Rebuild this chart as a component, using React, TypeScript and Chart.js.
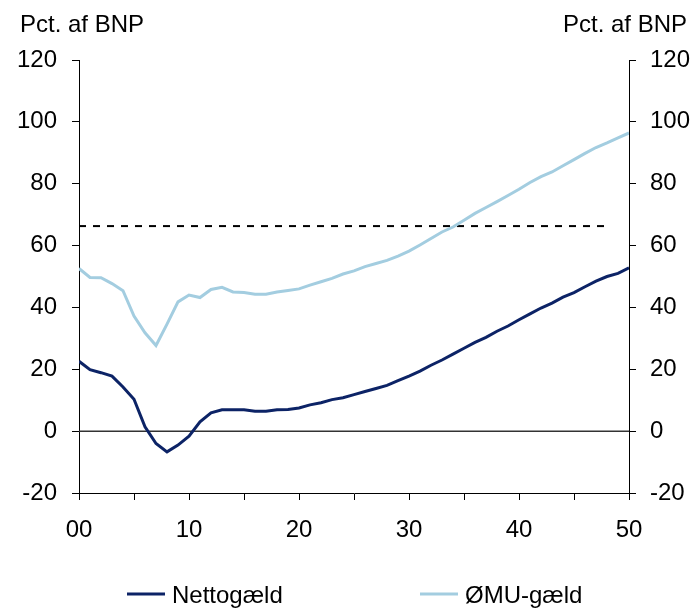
import React, { useEffect, useRef } from "react";
import { Chart, registerables } from "chart.js";

Chart.register(...registerables);

const years: number[] = Array.from({ length: 51 }, (_, i) => i);

const nettogaeld: number[] = [
  22.6, 19.9, 18.9, 17.8, 14.3, 10.3, 1.4, -4.0, -6.7, -4.5,
  -1.6, 3.0, 5.9, 6.9, 6.9, 6.9, 6.4, 6.4, 6.9, 7.0,
  7.5, 8.5, 9.2, 10.2, 10.8, 11.8, 12.8, 13.8, 14.8, 16.3,
  17.8, 19.4, 21.3, 23.0, 24.9, 26.8, 28.7, 30.3, 32.3, 34.0,
  36.0, 37.9, 39.8, 41.4, 43.3, 44.8, 46.7, 48.5, 50.0, 51.0,
  52.8,
];

const emuGaeld: number[] = [
  52.6, 49.7, 49.6, 47.7, 45.4, 37.2, 31.8, 27.7, 34.6, 41.8,
  44.0, 43.2, 45.8, 46.5, 45.0, 44.8, 44.3, 44.3, 45.0, 45.5,
  46.0, 47.2, 48.3, 49.4, 50.8, 51.8, 53.2, 54.2, 55.2, 56.6,
  58.2, 60.2, 62.3, 64.4, 66.0, 68.2, 70.4, 72.3, 74.2, 76.2,
  78.2, 80.4, 82.3, 83.8, 85.8, 87.8, 89.8, 91.7, 93.2, 94.8,
  96.4,
];

const referenceLevel: number = 66.3;
const referenceStart: number = 0;
const referenceEnd: number = 48.3;

const seriesLabels: string[] = ["Nettogæld", "ØMU-gæld"];
const axisTitle: string = "Pct. af BNP";
const yMin = -20;
const yMax = 120;
const yStep = 20;
const xMin = 0;
const xMax = 50;

const NAVY = "#0c2366";
const LIGHT = "#a3cde0";
const FONT = "'Liberation Sans', Arial, sans-serif";

const overlayPlugin = {
  id: "overlay",
  afterDraw(chart: any) {
    const ctx = chart.ctx;
    ctx.save();
    ctx.fillStyle = "#000";
    ctx.font = `24px ${FONT}`;
    ctx.textBaseline = "alphabetic";
    ctx.textAlign = "left";
    ctx.fillText(axisTitle, 20, 32);
    ctx.textAlign = "right";
    ctx.fillText(axisTitle, 687, 32);

    // legend
    const items = [
      { x: 127, ds: chart.data.datasets[0] },
      { x: 420, ds: chart.data.datasets[1] },
    ];
    const ly = 594;
    items.forEach((it) => {
      ctx.strokeStyle = it.ds.borderColor;
      ctx.lineWidth = 3;
      ctx.beginPath();
      ctx.moveTo(it.x, ly);
      ctx.lineTo(it.x + 38, ly);
      ctx.stroke();
      ctx.fillStyle = "#000";
      ctx.textAlign = "left";
      ctx.textBaseline = "alphabetic";
      ctx.fillText(it.ds.label, it.x + 45, 603);
    });
    ctx.restore();
  },
};

export default function App() {
  const ref = useRef<HTMLCanvasElement | null>(null);

  useEffect(() => {
    if (!ref.current) return;
    const chart = new Chart(ref.current, {
      type: "line",
      data: {
        datasets: [
          {
            label: seriesLabels[0],
            data: years.map((x, i) => ({ x, y: nettogaeld[i] })),
            borderColor: NAVY,
            borderWidth: 3,
            pointRadius: 0,
            tension: 0,
            yAxisID: "y",
          },
          {
            label: seriesLabels[1],
            data: years.map((x, i) => ({ x, y: emuGaeld[i] })),
            borderColor: LIGHT,
            borderWidth: 3,
            pointRadius: 0,
            tension: 0,
            yAxisID: "y",
          },
          {
            label: "ref",
            data: [
              { x: referenceStart, y: referenceLevel },
              { x: referenceEnd, y: referenceLevel },
            ],
            borderColor: "#000",
            borderWidth: 2,
            borderDash: [7, 7],
            pointRadius: 0,
            yAxisID: "y",
          },
          {
            label: "zero",
            data: [
              { x: xMin, y: 0 },
              { x: xMax, y: 0 },
            ],
            borderColor: "#333",
            borderWidth: 1.5,
            pointRadius: 0,
            yAxisID: "y",
          },
        ],
      },
      options: {
        responsive: false,
        animation: false,
        events: [],
        layout: { padding: { top: 60, left: 0, right: 0, bottom: 0 } },
        plugins: {
          legend: { display: false },
          tooltip: { enabled: false },
        },
        scales: {
          x: {
            type: "linear",
            position: "bottom",
            min: xMin,
            max: xMax,
            afterFit: (s: any) => {
              s.height = 115;
            },
            ticks: {
              stepSize: 5,
              autoSkip: false,
              maxRotation: 0,
              padding: 16,
              color: "#000",
              font: { family: FONT, size: 24 },
              callback: (v: any) =>
                Number(v) % 10 === 0 ? String(Number(v) % 100).padStart(2, "0") : "",
            },
            grid: {
              drawOnChartArea: false,
              drawTicks: true,
              tickLength: 7,
              color: "#000",
              lineWidth: 1,
            },
            border: { color: "#000", width: 1 },
          },
          y: {
            type: "linear",
            position: "left",
            min: yMin,
            max: yMax,
            afterFit: (s: any) => {
              s.width = 79;
            },
            ticks: {
              stepSize: yStep,
              padding: 15,
              color: "#000",
              font: { family: FONT, size: 24 },
            },
            grid: {
              drawOnChartArea: false,
              drawTicks: true,
              tickLength: 7,
              color: "#000",
            },
            border: { color: "#000", width: 1 },
          },
          y1: {
            type: "linear",
            position: "right",
            min: yMin,
            max: yMax,
            afterFit: (s: any) => {
              s.width = 67;
            },
            ticks: {
              stepSize: yStep,
              padding: 14,
              color: "#000",
              font: { family: FONT, size: 24 },
            },
            grid: {
              drawOnChartArea: false,
              drawTicks: true,
              tickLength: 7,
              color: "#000",
            },
            border: { color: "#000", width: 1 },
          },
        },
      },
      plugins: [overlayPlugin],
    } as any);
    return () => chart.destroy();
  }, []);

  return (
    <div
      style={{
        position: "fixed",
        left: 0,
        top: 0,
        width: 696,
        height: 608,
        background: "#fff",
      }}
    >
      <canvas ref={ref} width={696} height={608} />
    </div>
  );
}
